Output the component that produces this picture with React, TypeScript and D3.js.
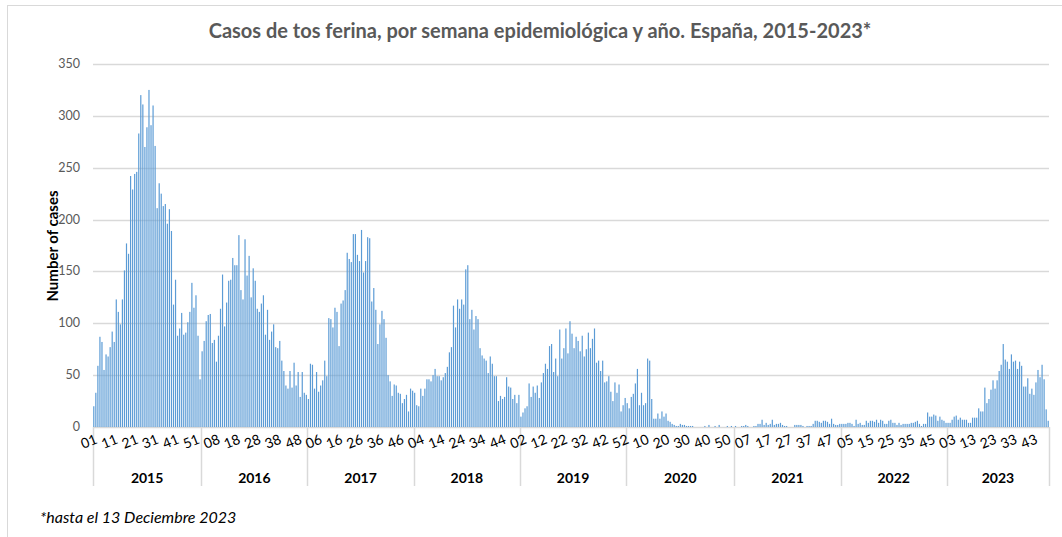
import { scaleBand, scaleLinear } from "d3";

// weekly pertussis cases
const cases2015 = [20, 33, 59, 87, 82, 55, 70, 68, 77, 92, 82, 123, 111, 99, 123, 151, 177, 167, 242, 229, 244, 246, 283, 320, 311, 270, 289, 325, 291, 310, 271, 211, 235, 225, 213, 215, 196, 210, 189, 118, 142, 88, 95, 110, 89, 91, 101, 111, 139, 115, 127, 88, 46];
const cases2016 = [73, 83, 102, 108, 109, 81, 84, 63, 88, 114, 147, 97, 120, 141, 142, 163, 156, 156, 185, 132, 123, 181, 146, 165, 125, 153, 141, 114, 111, 119, 127, 89, 113, 84, 92, 99, 77, 76, 83, 64, 54, 40, 37, 54, 38, 62, 40, 53, 29, 53, 33, 31];
const cases2017 = [27, 61, 60, 37, 53, 34, 40, 45, 64, 49, 105, 104, 96, 115, 111, 78, 119, 122, 132, 168, 162, 159, 186, 186, 166, 160, 190, 149, 160, 183, 182, 121, 134, 113, 80, 99, 112, 104, 86, 50, 44, 30, 41, 40, 33, 32, 23, 27, 31, 15, 37, 35];
const cases2018 = [33, 21, 20, 37, 30, 37, 46, 46, 44, 50, 56, 49, 49, 45, 48, 52, 58, 72, 77, 117, 96, 123, 114, 123, 118, 152, 156, 104, 113, 94, 107, 104, 76, 69, 66, 64, 52, 68, 61, 49, 49, 25, 30, 27, 29, 48, 39, 38, 27, 31, 23, 31];
const cases2019 = [10, 14, 18, 20, 42, 29, 39, 33, 40, 28, 43, 52, 61, 56, 78, 80, 53, 66, 49, 94, 66, 76, 95, 71, 102, 90, 76, 87, 83, 73, 88, 68, 75, 91, 76, 85, 95, 62, 64, 54, 64, 43, 44, 49, 34, 25, 43, 33, 41, 15, 21, 28];
const cases2020 = [23, 18, 29, 32, 42, 56, 21, 33, 21, 23, 66, 64, 27, 8, 8, 13, 8, 15, 10, 13, 6, 5, 3, 2, 1, 1, 3, 2, 2, 1, 1, 1, 1, 0, 0, 0, 0, 0, 1, 0, 2, 0, 0, 1, 0, 2, 0, 0, 0, 1, 0, 1, 0];
const cases2021 = [1, 0, 0, 1, 1, 2, 1, 0, 0, 1, 1, 3, 3, 7, 2, 4, 2, 3, 7, 2, 3, 3, 4, 2, 1, 1, 0, 0, 0, 2, 2, 2, 2, 1, 0, 1, 1, 1, 3, 6, 6, 5, 4, 6, 6, 5, 3, 8, 3, 2, 2, 3];
const cases2022 = [3, 3, 3, 4, 4, 3, 1, 7, 3, 4, 2, 2, 6, 4, 6, 6, 5, 7, 4, 7, 6, 3, 3, 6, 7, 4, 4, 2, 4, 2, 3, 3, 3, 3, 4, 4, 5, 6, 3, 1, 3, 3, 14, 10, 10, 12, 11, 6, 10, 7, 6, 4];
const cases2023 = [4, 4, 7, 10, 11, 7, 9, 7, 7, 7, 4, 4, 9, 9, 9, 18, 15, 15, 38, 23, 27, 36, 45, 37, 45, 54, 60, 80, 65, 63, 56, 70, 63, 64, 56, 63, 59, 39, 39, 47, 32, 37, 31, 43, 55, 48, 60, 46, 17, 6];

const years = ["2015", "2016", "2017", "2018", "2019", "2020", "2021", "2022", "2023"];
const yearSeries = [cases2015, cases2016, cases2017, cases2018, cases2019, cases2020, cases2021, cases2022, cases2023];
const yTicks = [0, 50, 100, 150, 200, 250, 300, 350];
const labelEvery = 10;

const title = "Casos de tos ferina, por semana epidemiológica y año. España, 2015-2023*";
const yTitle = "Number of cases";
const footnote = "*hasta el 13 Deciembre  2023";

const font = "Lato, 'Open Sans', sans-serif";
const grid = "#d9d9d9";
const barColor = "#5b9bd5";

const weeks = yearSeries.flatMap((vals, yi) =>
    vals.map((v, wi) => ({ year: years[yi], week: wi + 1, value: v }))
);

export default function App() {
    const left = 93;
    const right = 1049;
    const top = 64;
    const bottom = 427;

    const x = scaleBand<number>()
        .domain(weeks.map((_, i) => i))
        .range([left, right])
        .paddingInner(0.42)
        .paddingOuter(0.1);
    const y = scaleLinear().domain([0, 350]).range([bottom, top]);

    const yearStarts: number[] = [];
    let acc = 0;
    yearSeries.forEach((s) => {
        yearStarts.push(acc);
        acc += s.length;
    });
    const edge = (i: number) => left + (right - left) * (i / weeks.length);

    return (
        <svg
            width={1062}
            height={537}
            style={{ position: "absolute", left: 0, top: 0, background: "#fff" }}
            fontFamily={font}
        >
            <rect x={7.5} y={5.5} width={1070} height={560} fill="none" stroke={grid} />
            <text x={540} y={38} textAnchor="middle" fontSize={20} fontWeight="bold" fill="#595959">
                {title}
            </text>

            {yTicks.map((t) => (
                <g key={`g-${t}`}>
                    <line x1={left} x2={right} y1={Math.round(y(t)) + 0.5} y2={Math.round(y(t)) + 0.5} stroke={grid} strokeWidth={1.5} />
                    <text x={80} y={y(t) + 4} textAnchor="end" fontSize={12.5} fill="#595959">
                        {t}
                    </text>
                </g>
            ))}

            <text
                transform={`translate(58, 246) rotate(-90)`}
                textAnchor="middle"
                fontSize={15}
                fontWeight="bold"
                fill="#000"
            >
                {yTitle}
            </text>

            {weeks.map((d, i) => (
                <rect
                    key={`b-${i}`}
                    x={x(i)}
                    y={y(d.value)}
                    width={x.bandwidth()}
                    height={bottom - y(d.value)}
                    fill={barColor}
                />
            ))}

            {yearStarts.concat([weeks.length]).map((s, i) => (
                <line key={`sep-${i}`} x1={Math.round(edge(s)) + 0.5} x2={Math.round(edge(s)) + 0.5} y1={bottom} y2={486} stroke={grid} strokeWidth={1.5} />
            ))}

            {weeks.map((d, i) =>
                i % labelEvery === 0 ? (
                    <text
                        key={`w-${i}`}
                        transform={`translate(${(x(i) ?? 0) + x.bandwidth() / 2 - 3}, 446) rotate(-22)`}
                        textAnchor="middle"
                        fontSize={14}
                        fill="#000"
                    >
                        {String(d.week).padStart(2, "0")}
                    </text>
                ) : null
            )}

            {years.map((yr, i) => {
                const s = yearStarts[i];
                const e = s + yearSeries[i].length;
                return (
                    <text key={`y-${yr}`} x={(edge(s) + edge(e)) / 2} y={483} textAnchor="middle" fontSize={14} fontWeight="bold" fill="#000">
                        {yr}
                    </text>
                );
            })}

            <text x={40} y={523} fontSize={16} fontStyle="italic" fill="#000">
                {footnote}
            </text>
        </svg>
    );
}
